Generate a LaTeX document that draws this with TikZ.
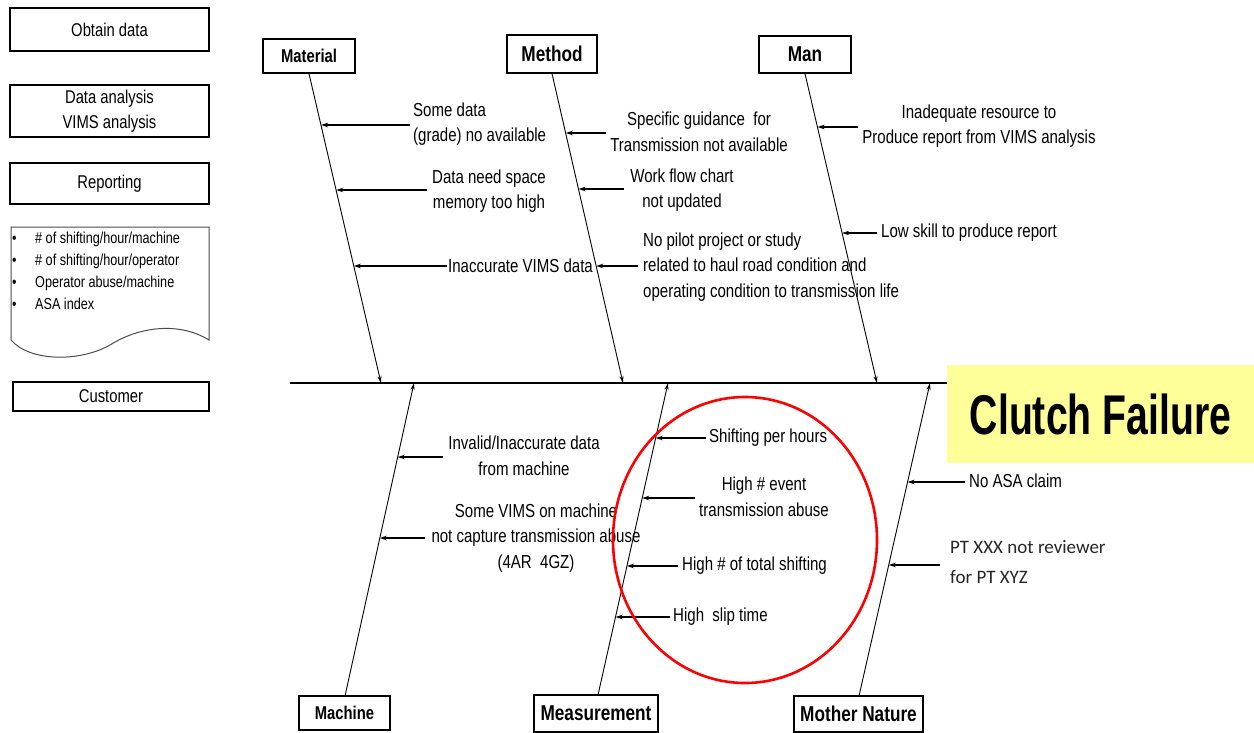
\documentclass[tikz,border=0pt]{standalone}
\usepackage{fontspec}
\setmainfont{Liberation Sans}[FakeStretch=0.8]
\newfontfamily\clutchfont{Liberation Sans}[FakeStretch=0.7]
\newfontfamily\calfont{Carlito}
\usetikzlibrary{arrows.meta,calc}
\definecolor{clutchyellow}{RGB}{255,255,153}
\begin{document}
\begin{tikzpicture}[x=1pt,y=-1pt,
  side/.style={draw,line width=1.2pt,inner sep=0pt,minimum width=199pt,align=center,font=\fontsize{18.5}{25}\selectfont},
  cat/.style={draw,line width=1.3pt,inner sep=0pt,font=\bfseries\fontsize{21.5}{24}\selectfont},
  catsmall/.style={cat,font=\bfseries\fontsize{18.5}{22}\selectfont},
  lab/.style={inner sep=0pt,align=center,font=\fontsize{18.8}{25.5}\selectfont},
  bone/.style={line width=0.9pt,-{Stealth[length=7pt,width=4pt]}},
  sub/.style={line width=1.2pt,-{Stealth[length=7pt,width=4.5pt]}}
]
\useasboundingbox (0,0) rectangle (1254,732);
\fill[white] (0,0) rectangle (1254,732);

% ---------- left panel ----------
\node[side,minimum height=43pt] (obtain) at (109.5,29.5) {Obtain data};
\node[side,minimum height=52pt] (analysis) at (109.5,111) {Data analysis\\VIMS analysis};
\node[side,minimum height=41pt] (reporting) at (109.5,183.5) {Reporting};
\draw[line width=1pt,black!70] (11,340) -- (11,227) -- (209,227) -- (209,340)
  .. controls (180,322) and (140,326) .. (110,345)
  .. controls (80,362) and (30,362) .. (11,340);
\node[anchor=north west,inner sep=0pt,align=left,font=\fontsize{15.8}{22}\selectfont] (kpi) at (12,232)
  {\makebox[23pt][l]{\textbullet}\# of shifting/hour/machine\\
   \makebox[23pt][l]{\textbullet}\# of shifting/hour/operator\\
   \makebox[23pt][l]{\textbullet}Operator abuse/machine\\
   \makebox[23pt][l]{\textbullet}ASA index};
\node[side,minimum width=196pt,minimum height=29pt] (customer) at (111,396.5) {Customer};

% ---------- head ----------
\node[fill=clutchyellow,inner sep=0pt,minimum width=307pt,minimum height=98pt,
      font=\clutchfont\bfseries\fontsize{56}{60}\selectfont] (clutch) at (1100.5,414) {Clutch Failure};

% ---------- category boxes ----------
\node[catsmall,minimum width=92pt,minimum height=34pt] (material) at (309,56) {Material};
\node[cat,minimum width=90pt,minimum height=38pt] (method) at (552,54) {Method};
\node[cat,minimum width=92pt,minimum height=37pt] (man) at (805,54.5) {Man};
\node[catsmall,minimum width=91pt,minimum height=34pt] (machine) at (344.5,713) {Machine};
\node[cat,minimum width=124pt,minimum height=37pt] (measurement) at (596,713.5) {Measurement};
\node[cat,minimum width=129pt,minimum height=36pt] (mother) at (858.5,714) {Mother Nature};

% ---------- spine ----------
\coordinate (spL) at (290,383);
\coordinate (spR) at (947,383);
\draw[line width=2pt] (spL) -- (spR);
\coordinate (sp1) at (381,383);
\coordinate (sp2) at (623,383);
\coordinate (sp3) at (877,383);
\coordinate (sp4) at (414,383);
\coordinate (sp5) at (668,383);
\coordinate (sp6) at (930,383);

% ---------- bones ----------
\draw[bone] (material.south) -- (sp1);
\draw[bone] (method.south) -- (sp2);
\draw[bone] (man.south) -- (sp3);
\coordinate (mcb) at (345,696);
\coordinate (msb) at (598,695);
\coordinate (mnb) at (859,696);
\draw[bone] (mcb) -- (sp4);
\draw[bone] (msb) -- (sp5);
\draw[bone] (mnb) -- (sp6);

% ---------- Material causes ----------
\node[lab,anchor=west,align=left] (m1) at (413,124) {Some data\\(grade) no available};
\node[lab] (m2) at (489,191) {Data need space\\memory too high};
\node[lab,anchor=west] (m3) at (448,266) {Inaccurate VIMS data};
\coordinate (m1s) at (410,125);
\coordinate (m2s) at (427,190);
\coordinate (m3s) at (447,266);
\coordinate (m1t) at ($(material.south)!0.1677!(sp1)$);
\coordinate (m2t) at ($(material.south)!0.3774!(sp1)$);
\coordinate (m3t) at ($(material.south)!0.6226!(sp1)$);
\draw[sub] (m1s) -- (m1s -| m1t);
\draw[sub] (m2s) -- (m2s -| m2t);
\draw[sub] (m3s) -- (m3s -| m3t);

% ---------- Method causes ----------
\node[lab] (me1) at (699,132) {Specific guidance~ for\\Transmission not available};
\node[lab] (me2) at (682,190) {Work flow chart\\not updated};
\node[lab,anchor=west,align=left] (me3) at (643,267) {No pilot project or study\\related to haul road condition and\\operating condition to transmission life};
\coordinate (me1s) at (606,133);
\coordinate (me2s) at (624,189);
\coordinate (me3s) at (638,266);
\coordinate (me1t) at ($(method.south)!0.1935!(sp2)$);
\coordinate (me2t) at ($(method.south)!0.3742!(sp2)$);
\coordinate (me3t) at ($(method.south)!0.6226!(sp2)$);
\draw[sub] (me1s) -- (me1s -| me1t);
\draw[sub] (me2s) -- (me2s -| me2t);
\draw[sub] (me3s) -- (me3s -| me3t);

% ---------- Man causes ----------
\node[lab] (ma1) at (979,126) {Inadequate resource to\\Produce report from VIMS analysis};
\node[lab,anchor=west] (ma2) at (881,233) {Low skill to produce report};
\coordinate (ma1s) at (858,127);
\coordinate (ma2s) at (877,233);
\coordinate (ma1t) at ($(man.south)!0.1742!(sp3)$);
\coordinate (ma2t) at ($(man.south)!0.5161!(sp3)$);
\draw[sub] (ma1s) -- (ma1s -| ma1t);
\draw[sub] (ma2s) -- (ma2s -| ma2t);

% ---------- Machine causes ----------
\node[lab] (mc1) at (524,456) {Invalid/Inaccurate data\\from machine};
\node[lab] (mc2) at (536,538) {Some VIMS on machine\\not capture transmission abuse\\(4AR~ 4GZ)};
\coordinate (mc1s) at (443,457);
\coordinate (mc2s) at (425,538);
\coordinate (mc1t) at ($(mcb)!0.7636!(sp4)$);
\coordinate (mc2t) at ($(mcb)!0.5048!(sp4)$);
\draw[sub] (mc1s) -- (mc1s -| mc1t);
\draw[sub] (mc2s) -- (mc2s -| mc2t);

% ---------- Measurement causes ----------
\node[lab,anchor=west] (ms1) at (709,438) {Shifting per hours};
\node[lab] (ms2) at (764,497) {High \# event\\transmission abuse};
\node[lab,anchor=west] (ms3) at (682,566) {High \# of total shifting};
\node[lab,anchor=west] (ms4) at (673,617) {High~ slip time};
\coordinate (ms1s) at (706,438);
\coordinate (ms2s) at (695,498);
\coordinate (ms3s) at (678,566);
\coordinate (ms4s) at (670,617);
\coordinate (ms1t) at ($(msb)!0.8237!(sp5)$);
\coordinate (ms2t) at ($(msb)!0.6314!(sp5)$);
\coordinate (ms3t) at ($(msb)!0.4135!(sp5)$);
\coordinate (ms4t) at ($(msb)!0.25!(sp5)$);
\draw[sub] (ms1s) -- (ms1s -| ms1t);
\draw[sub] (ms2s) -- (ms2s -| ms2t);
\draw[sub] (ms3s) -- (ms3s -| ms3t);
\draw[sub] (ms4s) -- (ms4s -| ms4t);

% ---------- Mother Nature causes ----------
\node[lab,anchor=west] (mn1) at (969,481) {No ASA claim};
\node[inner sep=0pt,anchor=west,align=left,text=black!85,font=\calfont\fontsize{19}{30}\selectfont] (mn2) at (950,562) {PT XXX not reviewer\\for PT XYZ};
\coordinate (mn1s) at (965,482);
\coordinate (mn2s) at (940,565);
\coordinate (mn1t) at ($(mnb)!0.6837!(sp6)$);
\coordinate (mn2t) at ($(mnb)!0.4185!(sp6)$);
\draw[sub] (mn1s) -- (mn1s -| mn1t);
\draw[sub] (mn2s) -- (mn2s -| mn2t);

% ---------- highlight ----------
\draw[red,line width=2.6pt] (745,540) ellipse [x radius=132pt, y radius=143pt];
\end{tikzpicture}
\end{document}
